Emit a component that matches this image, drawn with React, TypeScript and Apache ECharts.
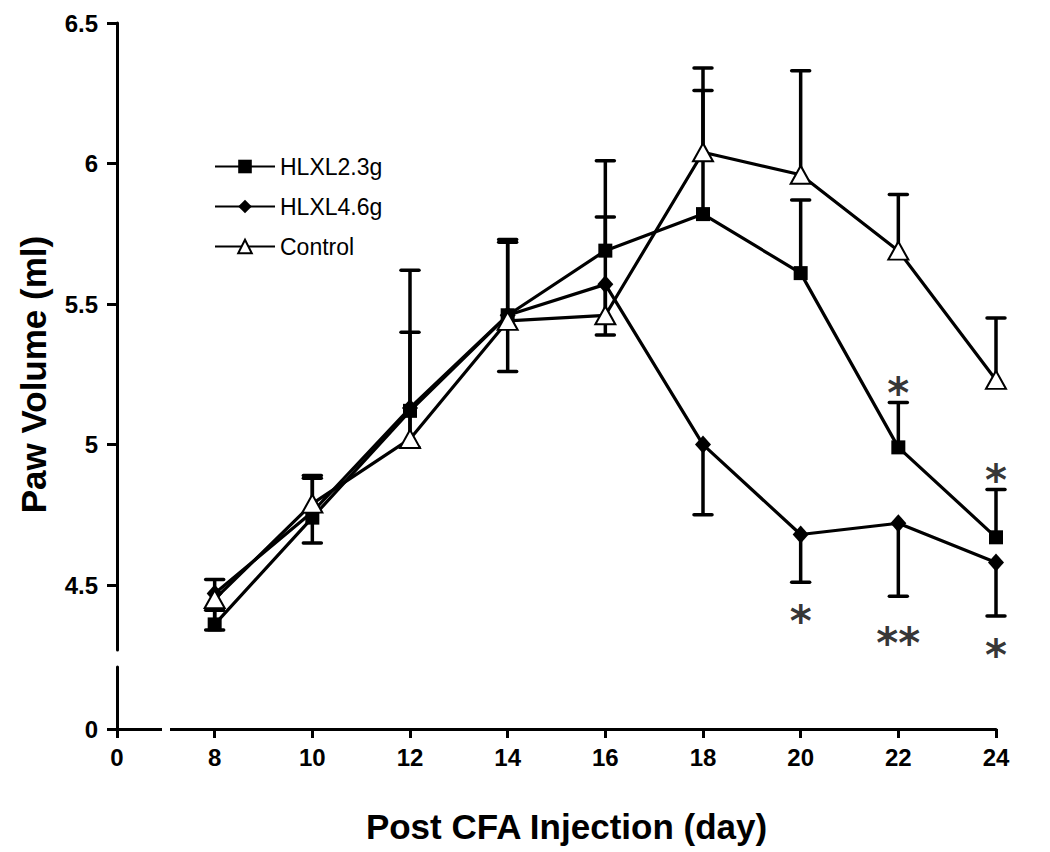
import React, { useEffect, useRef } from "react";
import * as echarts from "echarts";

// X categories (axis is broken between 0 and 8)
const categories = ["0", "8", "10", "12", "14", "16", "18", "20", "22", "24"];
const days = ["8", "10", "12", "14", "16", "18", "20", "22", "24"];

// Series means
const hlxl23 = [4.36, 4.74, 5.12, 5.46, 5.69, 5.82, 5.61, 4.99, 4.67];
const hlxl46 = [4.47, 4.76, 5.13, 5.46, 5.57, 5.0, 4.68, 4.72, 4.58];
const control = [4.45, 4.79, 5.02, 5.44, 5.46, 6.04, 5.96, 5.69, 5.23];

// Error bar ends (one-sided)
const hlxl23Upper = [4.41, 4.88, 5.4, 5.73, 5.81, 6.26, 5.87, 5.15, 4.84];
const hlxl46Lower = [4.34, 4.65, 4.99, 5.26, 5.39, 4.75, 4.51, 4.46, 4.39];
const controlUpper = [4.52, 4.89, 5.62, 5.72, 6.01, 6.34, 6.33, 5.89, 5.45];

// Significance marks
const starDays = ["22", "24", "20", "22", "24"];
const starValues = [5.22, 4.91, 4.41, 4.33, 4.29];
const starTexts = ["*", "*", "*", "**", "*"];

// Y ticks
const upperTicks = [4.5, 5, 5.5, 6, 6.5];
const lowerTicks = [0];

const FONT = "'Liberation Sans', Arial, Helvetica, sans-serif";

export default function App() {
  const ref = useRef<HTMLDivElement>(null);

  useEffect(() => {
    if (!ref.current) return;
    const chart = echarts.init(ref.current, null, { renderer: "svg" });
    const lineStyle = { color: "#000", width: 3 };

    const errSeries = (name: string, vals: number[], ends: number[]) => ({
      name,
      type: "custom",
      xAxisIndex: 0,
      yAxisIndex: 0,
      z: 1,
      silent: true,
      encode: { x: 0, y: [1, 2] },
      data: days.map((d, i) => [d, vals[i], ends[i]]),
      renderItem: (params: any, api: any) => {
        const x = api.value(0);
        const p1 = api.coord([x, api.value(1)]);
        const p2 = api.coord([x, api.value(2)]);
        const hw = 9;
        return {
          type: "group",
          children: [
            {
              type: "line",
              shape: { x1: p1[0], y1: p1[1], x2: p2[0], y2: p2[1] },
              style: { stroke: "#000", lineWidth: 3.5 },
            },
            {
              type: "line",
              shape: { x1: p2[0] - hw, y1: p2[1], x2: p2[0] + hw, y2: p2[1] },
              style: { stroke: "#000", lineWidth: 3.5, lineCap: "round" },
            },
          ],
        };
      },
    });

    const tickLabel = {
      fontSize: 24,
      fontWeight: "bold",
      color: "#000",
      fontFamily: FONT,
    };
    const titleStyle = {
      fontSize: 35,
      fontWeight: "bold",
      color: "#000",
      fontFamily: FONT,
    };

    const option: any = {
      animation: false,
      backgroundColor: "#fff",
      textStyle: { fontFamily: FONT },
      grid: [
        { left: 117, top: 23, width: 879, height: 627 },
        { left: 117, top: 667, width: 879, height: 62 },
      ],
      legend: {
        orient: "vertical",
        left: 209,
        top: 150,
        itemWidth: 60,
        itemHeight: 17,
        itemGap: 17,
        textStyle: { fontSize: 23, color: "#000", fontFamily: FONT },
        data: ["HLXL2.3g", "HLXL4.6g", "Control"],
      },
      xAxis: [
        {
          gridIndex: 0,
          type: "category",
          data: categories,
          boundaryGap: false,
          show: false,
        },
        {
          gridIndex: 1,
          type: "category",
          data: categories,
          boundaryGap: false,
          axisLine: { lineStyle },
          axisTick: { length: 9, lineStyle: { color: "#000", width: 3 } },
          axisLabel: { ...tickLabel, margin: 16 },
          name: "Post CFA Injection (day)",
          nameLocation: "middle",
          nameGap: 80,
          nameTextStyle: { ...titleStyle, padding: [0, 0, 0, 20] },
        },
      ],
      yAxis: [
        {
          gridIndex: 0,
          type: "value",
          min: 4.269,
          max: 6.5,
          splitLine: { show: false },
          axisLine: { show: true, lineStyle },
          axisTick: {
            show: true,
            length: 10,
            customValues: upperTicks,
            lineStyle: { color: "#000", width: 3 },
          },
          axisLabel: {
            ...tickLabel,
            customValues: upperTicks,
            margin: 19,
            formatter: (v: number) => String(v),
          },
          name: "Paw Volume (ml)",
          nameLocation: "middle",
          nameGap: 66,
          nameTextStyle: { ...titleStyle, padding: [0, 76, 0, 0] },
        },
        {
          gridIndex: 1,
          type: "value",
          min: 0,
          max: 0.22,
          splitLine: { show: false },
          axisLine: { show: true, lineStyle },
          axisTick: {
            show: true,
            length: 10,
            customValues: lowerTicks,
            lineStyle: { color: "#000", width: 3 },
          },
          axisLabel: { ...tickLabel, customValues: lowerTicks, margin: 19 },
        },
      ],
      graphic: [
        {
          type: "rect",
          z: 100,
          shape: { x: 162, y: 722, width: 8, height: 18 },
          style: { fill: "#fff" },
        },
      ],
      series: [
        errSeries("HLXL2.3g SE", hlxl23, hlxl23Upper),
        errSeries("HLXL4.6g SE", hlxl46, hlxl46Lower),
        errSeries("Control SE", control, controlUpper),
        {
          name: "HLXL2.3g",
          type: "line",
          xAxisIndex: 0,
          yAxisIndex: 0,
          z: 3,
          data: days.map((d, i) => [d, hlxl23[i]]),
          symbol: "rect",
          symbolSize: 14,
          showAllSymbol: true,
          lineStyle: { color: "#000", width: 3.2 },
          itemStyle: { color: "#000" },
        },
        {
          name: "HLXL4.6g",
          type: "line",
          xAxisIndex: 0,
          yAxisIndex: 0,
          z: 3,
          data: days.map((d, i) => [d, hlxl46[i]]),
          symbol: "diamond",
          symbolSize: [16, 18],
          showAllSymbol: true,
          lineStyle: { color: "#000", width: 3.2 },
          itemStyle: { color: "#000" },
        },
        {
          name: "Control",
          type: "line",
          xAxisIndex: 0,
          yAxisIndex: 0,
          z: 4,
          data: days.map((d, i) => [d, control[i]]),
          symbol: "triangle",
          symbolSize: [20, 18],
          showAllSymbol: true,
          lineStyle: { color: "#000", width: 3.2 },
          itemStyle: { color: "#fff", borderColor: "#000", borderWidth: 2 },
        },
        {
          name: "Significance",
          type: "scatter",
          xAxisIndex: 0,
          yAxisIndex: 0,
          z: 5,
          symbolSize: 1,
          itemStyle: { color: "rgba(0,0,0,0)" },
          silent: true,
          data: starDays.map((d, i) => ({ value: [d, starValues[i]], name: starTexts[i] })),
          label: {
            show: true,
            position: "inside",
            formatter: "{b}",
            fontSize: 42,
            fontWeight: "bold",
            color: "#000",
            fontFamily: "'DejaVu Sans', sans-serif",
            offset: [0, 11],
          },
        },
      ],
    };

    chart.setOption(option);
    return () => chart.dispose();
  }, []);

  return (
    <div
      ref={ref}
      style={{ position: "fixed", left: 0, top: 0, width: 1050, height: 852, background: "#fff" }}
    />
  );
}
